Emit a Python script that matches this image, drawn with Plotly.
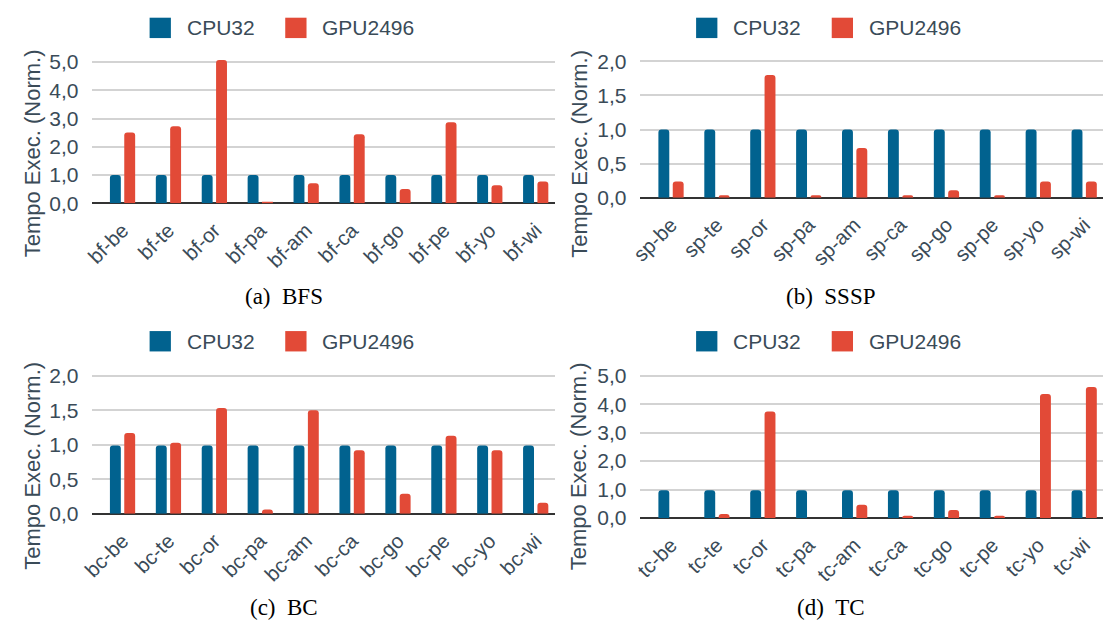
import plotly.graph_objects as go

W, H = 1103, 637

series_names = ["CPU32", "GPU2496"]
series_colors = ["#01628f", "#e24a37"]

bfs_cats = ["bf-be", "bf-te", "bf-or", "bf-pa", "bf-am", "bf-ca", "bf-go", "bf-pe", "bf-yo", "bf-wi"]
bfs_cpu = [1.0, 1.0, 1.0, 1.0, 1.0, 1.0, 1.0, 1.0, 1.0, 1.0]
bfs_gpu = [2.51, 2.73, 5.07, 0.03, 0.71, 2.44, 0.51, 2.87, 0.64, 0.77]

sssp_cats = ["sp-be", "sp-te", "sp-or", "sp-pa", "sp-am", "sp-ca", "sp-go", "sp-pe", "sp-yo", "sp-wi"]
sssp_cpu = [1.0, 1.0, 1.0, 1.0, 1.0, 1.0, 1.0, 1.0, 1.0, 1.0]
sssp_gpu = [0.24, 0.04, 1.80, 0.04, 0.73, 0.04, 0.11, 0.04, 0.24, 0.24]

bc_cats = ["bc-be", "bc-te", "bc-or", "bc-pa", "bc-am", "bc-ca", "bc-go", "bc-pe", "bc-yo", "bc-wi"]
bc_cpu = [0.99, 0.99, 0.99, 0.99, 0.99, 0.99, 0.99, 0.99, 0.99, 0.99]
bc_gpu = [1.17, 1.03, 1.53, 0.06, 1.50, 0.92, 0.29, 1.13, 0.92, 0.16]

tc_cats = ["tc-be", "tc-te", "tc-or", "tc-pa", "tc-am", "tc-ca", "tc-go", "tc-pe", "tc-yo", "tc-wi"]
tc_cpu = [0.98, 0.98, 0.98, 0.98, 0.98, 0.98, 0.98, 0.98, 0.98, 0.98]
tc_gpu = [0.0, 0.14, 3.74, 0.0, 0.47, 0.08, 0.28, 0.08, 4.36, 4.60]

captions = ["(a)&nbsp;&nbsp;BFS", "(b)&nbsp;&nbsp;SSSP", "(c)&nbsp;&nbsp;BC", "(d)&nbsp;&nbsp;TC"]
y_title = "Tempo Exec. (Norm.)"

panels = [
    (bfs_cats, bfs_cpu, bfs_gpu),
    (sssp_cats, sssp_cpu, sssp_gpu),
    (bc_cats, bc_cpu, bc_gpu),
    (tc_cats, tc_cpu, tc_gpu),
]

# layout geometry in pixels
geom = [
    dict(x0=81.5, x1=549, yb=201.3, yt=52.2, ymax=5.12, dtick=1.0, ox=0, oy=0),
    dict(x0=635, x1=1103, yb=195.7, yt=51.5, ymax=2.05, dtick=0.5, ox=552, oy=0),
    dict(x0=81.5, x1=549, yb=521.3, yt=375.4, ymax=2.05, dtick=0.5, ox=0, oy=322),
    dict(x0=635, x1=1103, yb=525.7, yt=375.5, ymax=5.12, dtick=1.0, ox=552, oy=322),
]
xr = [[-0.672, 9.41], [-0.683, 9.41], [-0.672, 9.41], [-0.683, 9.41]]

def px(x):
    return x / W

def py(y):
    return 1 - y / H

TEXT = "#3a4b58"
FONT = "Liberation Sans, Arial, sans-serif"

fig = go.Figure()
layout = dict(
    width=W, height=H, autosize=False,
    margin=dict(l=0, r=0, t=0, b=0),
    paper_bgcolor="white", plot_bgcolor="white",
    barmode="group", bargap=0.375, bargroupgap=0.24, barcornerradius=3,
    separators=",.",
    showlegend=False,
    font=dict(family=FONT, color=TEXT, size=20),
)
annotations = []
shapes = []

for i, ((cats, cpu, gpu), g) in enumerate(zip(panels, geom)):
    n = "" if i == 0 else str(i + 1)
    for name, color, vals in zip(series_names, series_colors, [cpu, gpu]):
        fig.add_trace(go.Bar(x=cats, y=vals, name=name, marker=dict(color=color, line=dict(width=0)),
                             xaxis="x" + n, yaxis="y" + n, showlegend=False))
    layout["xaxis" + n] = dict(
        domain=[px(g["x0"]), px(g["x1"])], anchor="y" + n, type="category",
        range=xr[i], tickangle=-45, showgrid=False, showline=False, zeroline=False,
        ticks="outside", ticklen=6, tickcolor="rgba(0,0,0,0)",
        tickfont=dict(size=20.5, color=TEXT, family=FONT),
    )
    layout["yaxis" + n] = dict(
        domain=[py(g["yb"]), py(g["yt"])], anchor="x" + n,
        range=[0, g["ymax"]], dtick=g["dtick"], tick0=0, tickformat=".1f",
        showgrid=True, gridcolor="#d3d3d3", gridwidth=1.5,
        zeroline=True, zerolinecolor="#333333", zerolinewidth=2,
        showline=False, ticks="outside", ticklen=8, tickcolor="rgba(0,0,0,0)",
        tickfont=dict(size=21, color=TEXT, family=FONT),
    )
    ox, oy = g["ox"], g["oy"]
    annotations.append(dict(
        text=y_title, x=px(ox + 22), y=py(oy + 150), xref="paper", yref="paper",
        textangle=-90, showarrow=False, xanchor="center", yanchor="middle",
        font=dict(size=22, color=TEXT, family=FONT),
    ))
    annotations.append(dict(
        text=captions[i], x=px(ox + 276), y=py(oy + 297 - (1 if i >= 2 else 0)), xref="paper", yref="paper",
        showarrow=False, xanchor="center", yanchor="middle",
        font=dict(size=23, color="black", family="Liberation Serif, Times New Roman, serif"),
    ))
    sw = [140, 277]
    for k, (name, color) in enumerate(zip(series_names, series_colors)):
        sx = ox + sw[k]
        sy = oy + 10 + (1 if i >= 2 else 0)
        shapes.append(dict(type="rect", xref="paper", yref="paper",
                           x0=px(sx), x1=px(sx + 21.5), y0=py(sy + 21), y1=py(sy),
                           fillcolor=color, line=dict(width=0)))
        annotations.append(dict(
            text=name, x=px(sx + 35.5), y=py(sy + 10.5), xref="paper", yref="paper",
            showarrow=False, xanchor="left", yanchor="middle",
            font=dict(size=21, color=TEXT, family=FONT),
        ))

layout["annotations"] = annotations
layout["shapes"] = shapes
fig.update_layout(**layout)
fig.write_html("out.html", config={"displayModeBar": False},
               post_script="document.body.style.margin='0';document.body.style.overflow='hidden';")
